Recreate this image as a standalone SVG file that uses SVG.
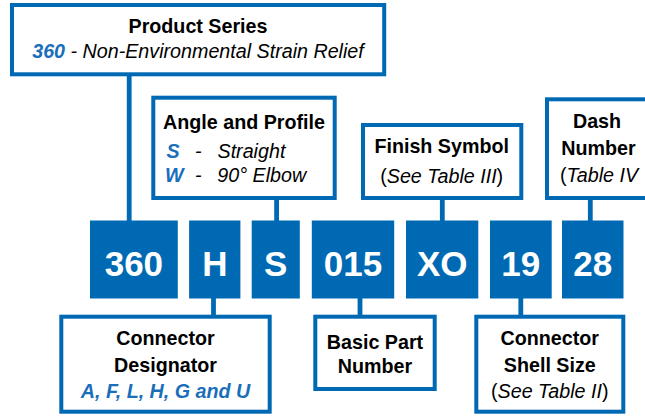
<svg xmlns="http://www.w3.org/2000/svg" width="645" height="416" viewBox="0 0 645 416">
<style>
.box{fill:#fff;stroke:#0069b4;stroke-width:4}
.code{fill:#0069b4}
.conn{stroke:#0069b4;stroke-width:4.8;fill:none}
text{font-family:"Liberation Sans",Arial,sans-serif;font-size:19.7px;fill:#000;text-anchor:middle}
.b{font-weight:bold}
.i{font-style:italic}
.bl{fill:#1a6fba;font-weight:bold;font-style:italic}
.ct{fill:#fff;font-weight:bold;font-size:35px}
.st{text-anchor:start}
</style>
<rect width="645" height="416" fill="#fff"/>
<g id="connectors">
<line class="conn" x1="129.2" y1="76" x2="129.2" y2="221"/>
<line class="conn" x1="276.6" y1="199" x2="276.6" y2="221"/>
<line class="conn" x1="442.3" y1="199" x2="442.3" y2="221"/>
<line class="conn" x1="590.3" y1="199" x2="590.3" y2="221"/>
<line class="conn" x1="213.5" y1="298" x2="213.5" y2="316"/>
<line class="conn" x1="360" y1="298" x2="360" y2="316"/>
<line class="conn" x1="520.8" y1="298" x2="520.8" y2="316"/>
</g>
<g id="product-series">
<rect class="box" x="12" y="5" width="372.2" height="69.3"/>
<text class="b" x="198" y="33.3">Product Series</text>
<text x="198" y="58.3"><tspan class="bl">360</tspan><tspan class="i"> - Non-Environmental Strain Relief</tspan></text>
</g>
<g id="angle-profile">
<rect class="box" x="153.3" y="97.7" width="181.4" height="100.3"/>
<text class="b" x="244" y="129.3">Angle and Profile</text>
<text class="bl st" x="166.5" y="158.3">S</text>
<text class="i st" x="195" y="158.3">-</text>
<text class="i st" x="217.5" y="158.3">Straight</text>
<text class="bl st" x="165" y="181.5">W</text>
<text class="i st" x="195" y="181.5">-</text>
<text class="i st" x="217.3" y="181.5">90° Elbow</text>
</g>
<g id="finish-symbol">
<rect class="box" x="363" y="125" width="158.3" height="73"/>
<text class="b" x="441.7" y="153.3">Finish Symbol</text>
<text x="441.7" y="183.3">(<tspan class="i">See Table III</tspan>)</text>
</g>
<g id="dash-number">
<rect class="box" x="547" y="99.3" width="110" height="98.7"/>
<text class="b" x="597" y="128.3">Dash</text>
<text class="b" x="598.5" y="155">Number</text>
<text class="st" x="560" y="181.7">(<tspan class="i">Table IV</tspan></text>
</g>
<g id="code-360">
<rect class="code" x="90" y="220.5" width="87.8" height="78"/>
<text class="ct" x="133.9" y="275.5">360</text>
</g>
<g id="code-H">
<rect class="code" x="189.1" y="220.5" width="51.3" height="78"/>
<text class="ct" x="214.8" y="275.5">H</text>
</g>
<g id="code-S">
<rect class="code" x="251.7" y="220.5" width="48.1" height="78"/>
<text class="ct" x="275.8" y="275.5">S</text>
</g>
<g id="code-015">
<rect class="code" x="311.8" y="220.5" width="82.4" height="78"/>
<text class="ct" x="353" y="275.5">015</text>
</g>
<g id="code-XO">
<rect class="code" x="406" y="220.5" width="72.3" height="78"/>
<text class="ct" x="442.2" y="275.5">XO</text>
</g>
<g id="code-19">
<rect class="code" x="490" y="220.5" width="61.7" height="78"/>
<text class="ct" x="520.8" y="275.5">19</text>
</g>
<g id="code-28">
<rect class="code" x="562" y="220.5" width="61.5" height="78"/>
<text class="ct" x="592.8" y="275.5">28</text>
</g>
<g id="connector-designator">
<rect class="box" x="61.3" y="316.7" width="208.4" height="95"/>
<text class="b" x="165.5" y="345">Connector</text>
<text class="b" x="165.5" y="371.7">Designator</text>
<text class="bl" x="165.5" y="398.3">A, F, L, H, G and U</text>
</g>
<g id="basic-part-number">
<rect class="box" x="315.3" y="316.7" width="119.4" height="72.3"/>
<text class="b" x="375" y="349.3">Basic Part</text>
<text class="b" x="375" y="372.7">Number</text>
</g>
<g id="connector-shell-size">
<rect class="box" x="476.3" y="316.7" width="147" height="95"/>
<text class="b" x="549.8" y="345">Connector</text>
<text class="b" x="549.8" y="371.7">Shell Size</text>
<text x="549.8" y="398.3">(<tspan class="i">See Table II</tspan>)</text>
</g>
</svg>
